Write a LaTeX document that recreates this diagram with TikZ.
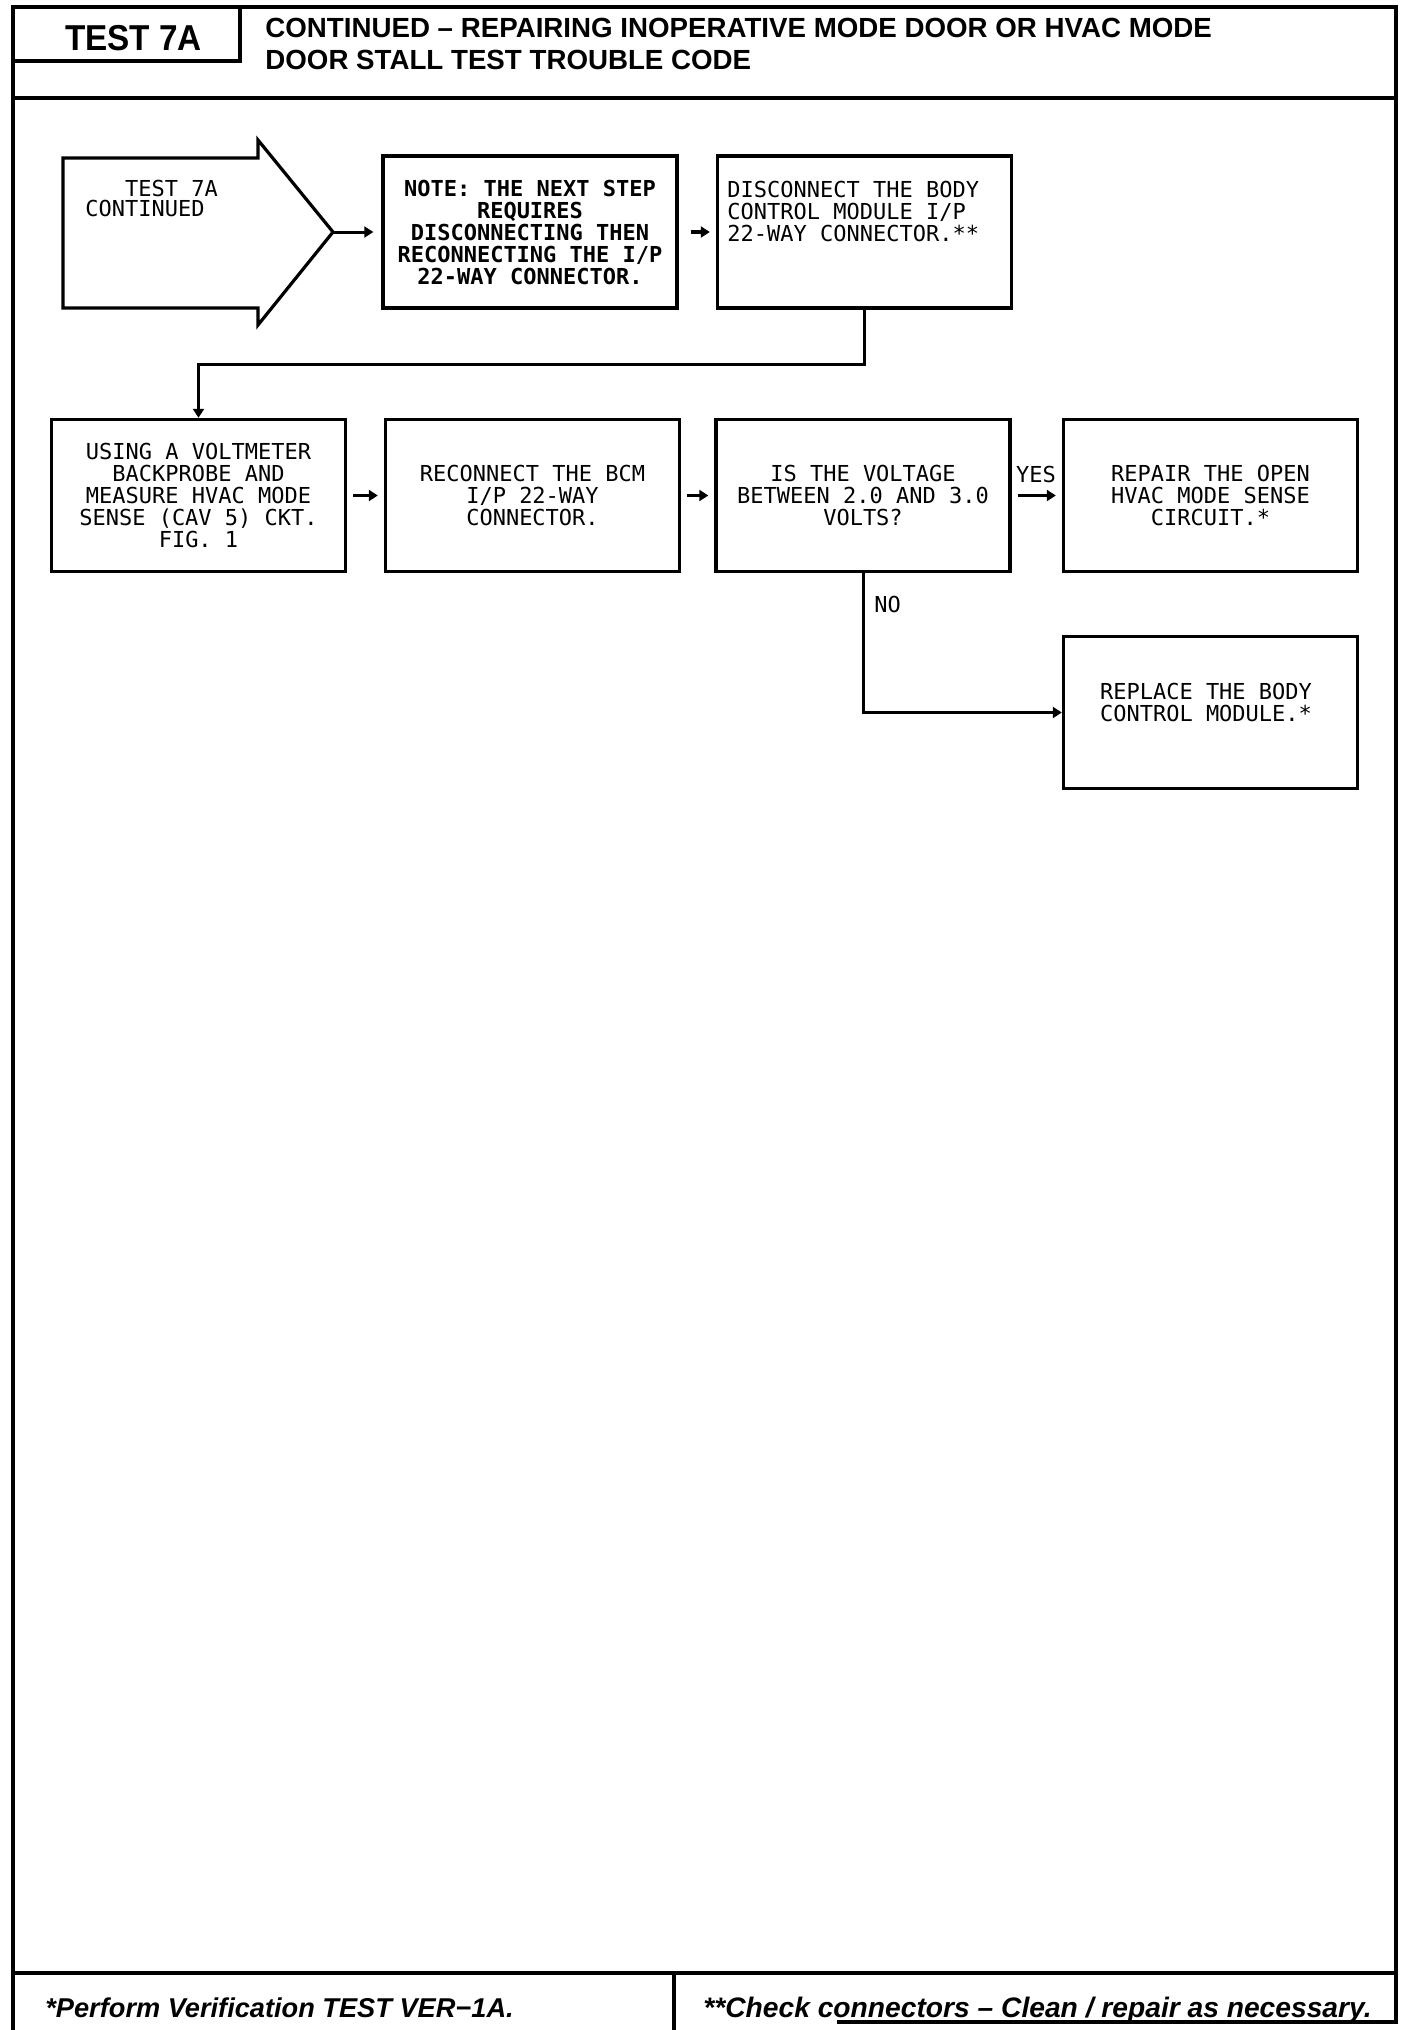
\documentclass[tikz,border=0pt]{standalone}
\usepackage{fontspec}
\setmainfont{Liberation Sans}
\newfontfamily\plotfont{DejaVu Sans Mono}
\newfontfamily\hdrfont[FakeStretch=0.925]{Liberation Sans}
\usetikzlibrary{arrows.meta}
\begin{document}
\begin{tikzpicture}[x=0.5pt,y=-0.5pt,
  frameline/.style={line width=1.6pt},
  flowbox/.style={draw, line width=1.7pt, minimum width=147pt, minimum height=76pt,
    inner sep=0pt, align=center, font=\plotfont\fontsize{11}{11}\selectfont},
  lbl/.style={inner sep=0pt, font=\plotfont\fontsize{11}{11}\selectfont},
  conn/.style={line width=1.5pt, -{Triangle[length=4.5pt,width=5.5pt]}},
  rowarrow/.style={conn, line width=1.9pt, shorten <=3pt, shorten >=3pt},
]
\useasboundingbox (0,0) rectangle (1408,2030);

% frame
\draw[frameline] (13,2030) -- (13,7) -- (1396,7) -- (1396,2022) -- (837,2022);
\draw[frameline] (13,61) -- (240,61) -- (240,7);
\draw[line width=2pt] (13,98) -- (1396,98);
\draw[line width=2pt] (13,1973) -- (1396,1973);
\draw[frameline] (674,1973) -- (674,2030);

% header
\node[inner sep=0pt, anchor=base, font=\hdrfont\bfseries\fontsize{18}{18}\selectfont] (hdr) at (133.5,50) {TEST 7A};
\node[inner sep=0pt, anchor=base west, font=\bfseries\fontsize{13.85}{14}\selectfont] (title1) at (265,37) {CONTINUED – REPAIRING INOPERATIVE MODE DOOR OR HVAC MODE};
\node[inner sep=0pt, anchor=base west, font=\bfseries\fontsize{13.85}{14}\selectfont] (title2) at (265,69) {DOOR STALL TEST TROUBLE CODE};

% start arrow shape
\draw[line width=1.6pt, line join=miter] (63,158) -- (258,158) -- (258,140) -- (333,232) -- (258,325) -- (258,308) -- (63,308) -- cycle;
\coordinate (a1tip) at (333,232);
\node[lbl, align=left, anchor=north west, font=\plotfont\fontsize{11}{10}\selectfont] (a1txt) at (85,180) {\phantom{CON}TEST 7A\\CONTINUED};

% row 1
\node[flowbox, font=\plotfont\bfseries\fontsize{11}{11}\selectfont] (b2) at (530,232) {NOTE: THE NEXT STEP\\REQUIRES\\DISCONNECTING THEN\\RECONNECTING THE I/P\\22-WAY CONNECTOR.};
\node[flowbox] (b3) at (864.5,232) {};
\node[lbl, align=left, anchor=north west] (b3txt) at (727,181) {DISCONNECT THE BODY\\CONTROL MODULE I/P\\22-WAY CONNECTOR.**};

% row 2
\node[flowbox] (b4) at (198.5,495.5) {USING A VOLTMETER\\BACKPROBE AND\\MEASURE HVAC MODE\\SENSE (CAV 5) CKT.\\FIG. 1};
\node[flowbox] (b5) at (532.5,495.5) {RECONNECT THE BCM\\I/P 22-WAY\\CONNECTOR.};
\node[flowbox] (b6) at (863,495.5) {IS THE VOLTAGE\\BETWEEN 2.0 AND 3.0\\VOLTS?};
\node[flowbox] (b7) at (1210.5,495.5) {REPAIR THE OPEN\\HVAC MODE SENSE\\CIRCUIT.*};
\node[flowbox] (b8) at (1210.5,712.5) {};
\node[lbl, align=center] (b8txt) at (1206,702) {REPLACE THE BODY\\CONTROL MODULE.*};

% labels
\node[lbl, anchor=base] (yes) at (1036,482) {YES};
\node[lbl, anchor=base west] (no) at (874,612) {NO};

% connectors
\draw[conn, shorten >=4pt] (a1tip) -- (b2.west);
\draw[rowarrow, shorten <=6pt] (b2) -- (b3);
\draw[conn] (b3.south) -- ++(0,55) coordinate (j1) -| (b4.north);
\draw[rowarrow] (b4) -- (b5);
\draw[rowarrow] (b5) -- (b6);
\draw[rowarrow] (b6) -- (b7);
\draw[conn] (b6.south) |- (b8.west);

% footer
\node[inner sep=0pt, anchor=base west, font=\bfseries\itshape\fontsize{13.6}{14}\selectfont] (foot1) at (45,2017) {*Perform Verification TEST VER−1A.};
\node[inner sep=0pt, anchor=base west, font=\bfseries\itshape\fontsize{14.1}{14}\selectfont] (foot2) at (703,2017) {**Check connectors – Clean / repair as necessary.};
\end{tikzpicture}
\end{document}
